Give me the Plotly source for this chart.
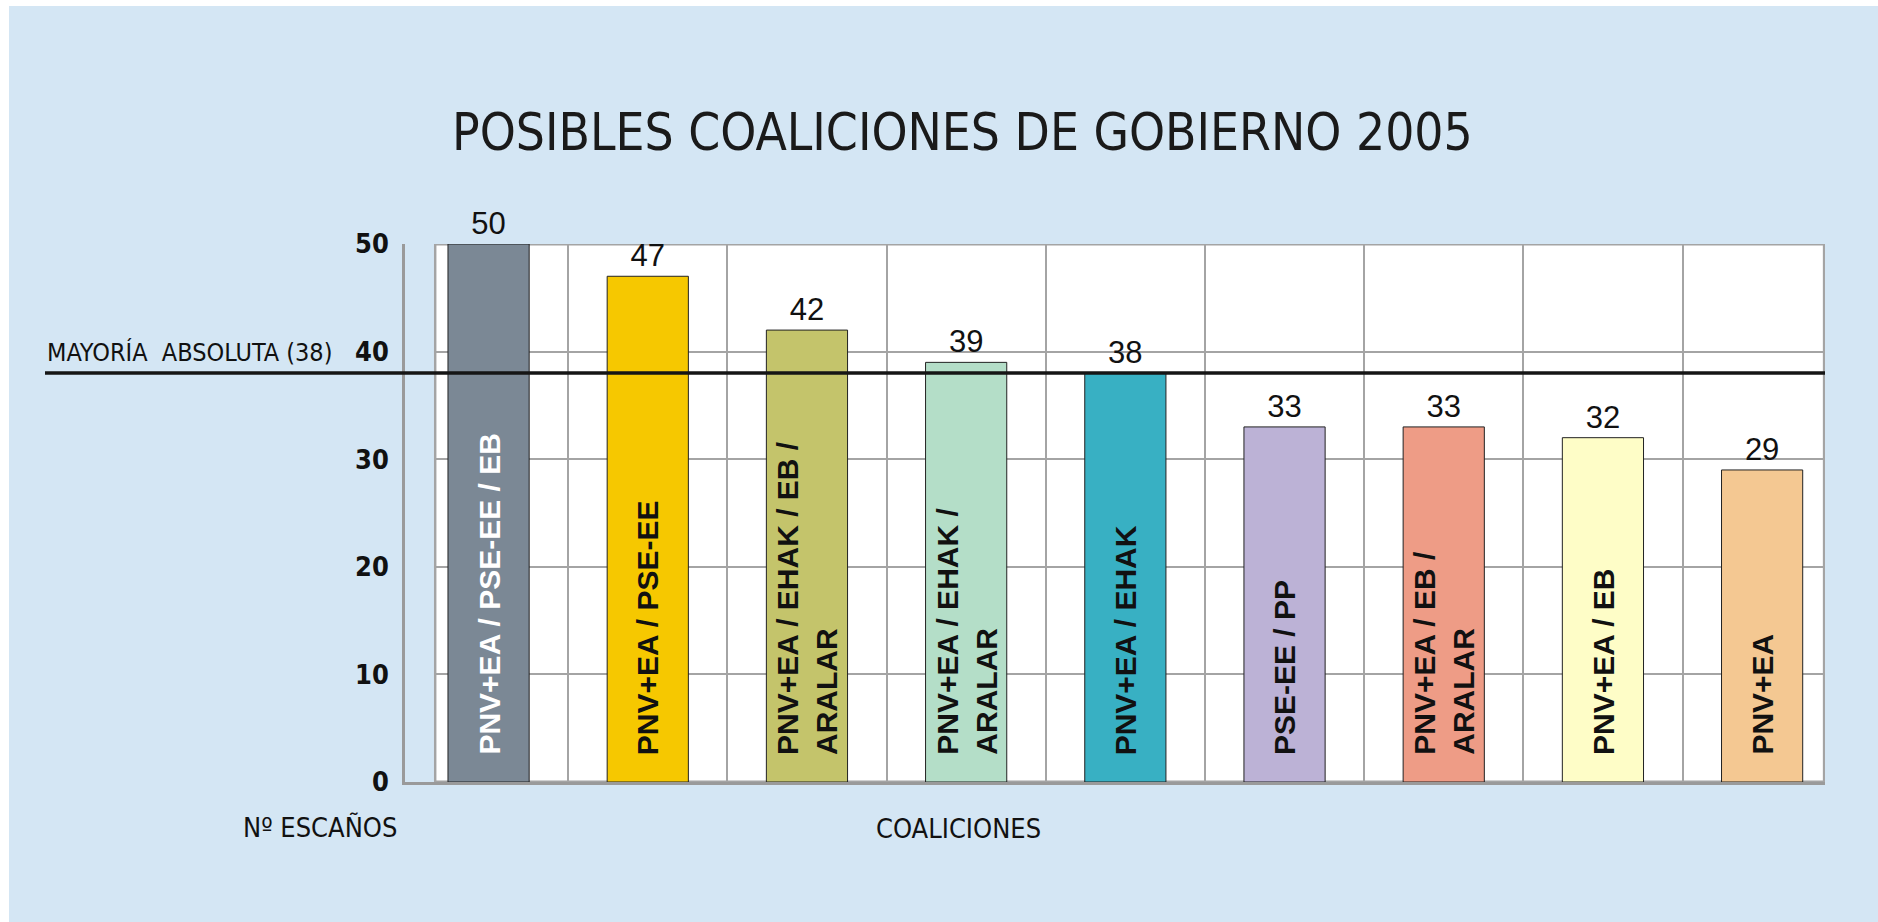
import plotly.graph_objects as go

# ---------------- data ----------------
coalitions = [
    "PNV+EA / PSE-EE / EB",
    "PNV+EA / PSE-EE",
    "PNV+EA / EHAK / EB /<br>ARALAR",
    "PNV+EA / EHAK /<br>ARALAR",
    "PNV+EA / EHAK",
    "PSE-EE / PP",
    "PNV+EA / EB /<br>ARALAR",
    "PNV+EA / EB",
    "PNV+EA",
]
seats = [50, 47, 42, 39, 38, 33, 33, 32, 29]
bar_colors = ["#7B8895", "#F6C800", "#C4C46B", "#B4DEC8", "#38B0C3",
              "#BCB2D6", "#EE9C86", "#FEFDC7", "#F4C892"]
label_colors = ["#FFFFFF", "#111111", "#111111", "#111111", "#111111",
                "#111111", "#111111", "#111111", "#111111"]
majority = 38
majority_label = "MAYORÍA\u00a0 ABSOLUTA (38)"
y_ticks = [0, 10, 20, 30, 40, 50]
title_text = "POSIBLES COALICIONES DE GOBIERNO 2005"
y_title = "Nº ESCAÑOS"
x_title = "COALICIONES"

# ---------------- styling ----------------
BG = "#D4E6F4"
GRID = "#A4A4A4"
NARROW = "Liberation Sans Narrow, Arial Narrow, DejaVu Sans Condensed, sans-serif"
SANS = "Liberation Sans, Arial, sans-serif"

W, H = 1878, 922
L, R, T, B = 405, 53, 244, 140
XR = [-0.525, 8.395]

fig = go.Figure()
fig.add_trace(go.Bar(
    x=coalitions, y=seats,
    width=0.51,
    marker=dict(color=bar_colors, line=dict(color="#222222", width=1)),
    text=[str(v) for v in seats],
    textposition="outside",
    textfont=dict(family=SANS, size=31, color="#111111"),
    cliponaxis=False,
    hoverinfo="skip",
))

# rotated category labels inside bars
for c, col in zip(coalitions, label_colors):
    fig.add_annotation(
        x=c, y=0, xref="x", yref="y",
        text=c, textangle=-90, align="left",
        xanchor="center", yanchor="bottom", yshift=25,
        showarrow=False,
        font=dict(family=SANS, size=30, color=col, weight="bold"),
    )

pw = W - L - R
ph = H - T - B

def px_x(p):
    return (p - L) / pw

def px_y(p):
    return (H - B - p) / ph

# background panel (white border top/left like the reference)
fig.add_shape(type="rect", xref="paper", yref="paper",
              x0=px_x(9), x1=px_x(W + 20), y0=px_y(H + 20), y1=px_y(6),
              fillcolor=BG, line=dict(width=0), layer="below")
# white plotting panel
fig.add_shape(type="rect", xref="x", yref="y",
              x0=-0.337, x1=XR[1] - 0.004, y0=0, y1=y_ticks[-1],
              fillcolor="white", line=dict(color=GRID, width=3), layer="below")
# light strip between axis and panel (hides gridlines)
fig.add_shape(type="rect", xref="x", yref="y",
              x0=XR[0], x1=-0.343, y0=0, y1=y_ticks[-1],
              fillcolor=BG, line=dict(width=0), layer="between")
# majority line
fig.add_shape(type="line", xref="paper", yref="y",
              x0=px_x(45), x1=1, y0=majority, y1=majority,
              line=dict(color="#151515", width=3.5), layer="above")

fig.add_annotation(x=px_x(45), y=majority, xref="paper", yref="y",
                   text=majority_label, showarrow=False,
                   xanchor="left", yanchor="middle", yshift=21,
                   font=dict(family=NARROW, size=25, color="#111111"))
fig.add_annotation(x=px_x(320), y=px_y(827), xref="paper", yref="paper",
                   text=y_title, showarrow=False,
                   xanchor="center", yanchor="middle",
                   font=dict(family=NARROW, size=27, color="#111111"))
fig.add_annotation(x=px_x(958), y=px_y(829), xref="paper", yref="paper",
                   text=x_title, showarrow=False,
                   xanchor="center", yanchor="middle",
                   font=dict(family=NARROW, size=27, color="#111111"))
fig.add_annotation(x=px_x(962), y=px_y(132), xref="paper", yref="paper",
                   text=title_text, showarrow=False,
                   xanchor="center", yanchor="middle",
                   font=dict(family=NARROW, size=51, color="#1A1A1A"))

fig.update_layout(
    width=W, height=H,
    margin=dict(l=L, r=R, t=T, b=B, pad=0),
    paper_bgcolor="white",
    plot_bgcolor="rgba(0,0,0,0)",
    showlegend=False,
    xaxis=dict(
        type="category", range=XR, tickson="boundaries",
        showticklabels=False, ticks="",
        showgrid=True, gridcolor=GRID, gridwidth=2,
        showline=True, linecolor="#9A9A9A", linewidth=3,
        zeroline=False, fixedrange=True,
    ),
    yaxis=dict(
        range=[0, 50], tickvals=y_ticks,
        ticks="outside", ticklen=8, tickcolor="rgba(0,0,0,0)",
        tickfont=dict(family=NARROW, size=27, color="#111111", weight="bold"),
        showgrid=True, gridcolor=GRID, gridwidth=2,
        showline=True, linecolor="#9A9A9A", linewidth=2.5,
        zeroline=False, fixedrange=True,
    ),
)

fig.write_html("out.html", config={"displayModeBar": False},
               post_script="document.body.style.margin='0';document.body.style.overflow='hidden';")
